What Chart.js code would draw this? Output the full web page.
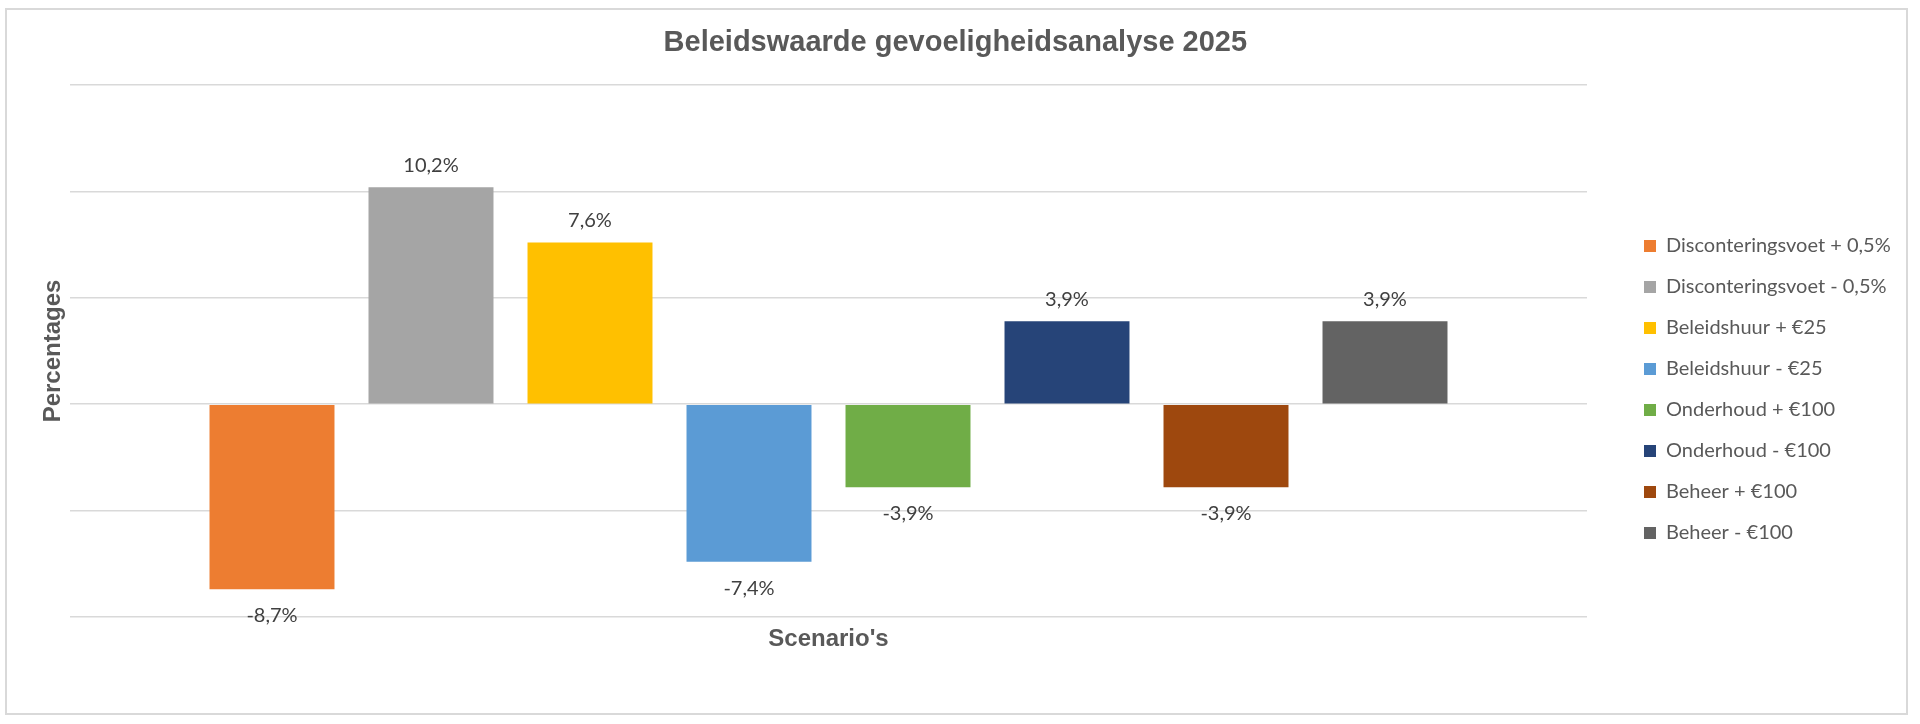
<!DOCTYPE html>
<html>
<head>
<meta charset="utf-8">
<title>Beleidswaarde gevoeligheidsanalyse 2025</title>
<script src="https://cdn.jsdelivr.net/npm/chart.js@4.4.1/dist/chart.umd.min.js"></script>
<style>
    html, body { margin: 0; padding: 0; background: #ffffff; }
    #wrap { position: relative; width: 1920px; height: 724px; }
    #frame {
        position: absolute; left: 5px; top: 8px; width: 1903px; height: 707px;
        border: 2px solid #d9d9d9; box-sizing: border-box; pointer-events: none;
    }
</style>
</head>
<body>
<div id="wrap">
    <canvas id="sensChart"></canvas>
    <div id="frame"></div>
</div>
<script>
// Chart data
const scenarios = [
    'Disconteringsvoet + 0,5%',
    'Disconteringsvoet - 0,5%',
    'Beleidshuur + €25',
    'Beleidshuur - €25',
    'Onderhoud + €100',
    'Onderhoud - €100',
    'Beheer + €100',
    'Beheer - €100'
];
const changes = [-8.7, 10.2, 7.6, -7.4, -3.9, 3.9, -3.9, 3.9];
const barColors = ['#ed7d31', '#a5a5a5', '#ffc000', '#5b9bd5', '#70ad47', '#264478', '#9e480e', '#636363'];
const yTicks = [-10, -5, 0, 5, 10, 15];

const legendFont = { family: 'Lato, "Noto Sans", sans-serif', size: 20 };
const labelPad = 21;

// measure widest legend text so the legend box lands where the original has it
const mctx = document.createElement('canvas').getContext('2d');
mctx.font = legendFont.size + 'px ' + legendFont.family;
const widest = Math.max(...scenarios.map(s => mctx.measureText(s).width));
const padRight = Math.max(0, 244 - widest);

const fmt = v => v.toFixed(1).replace('.', ',') + '%';

// value labels above / below each bar
const valueLabels = {
    id: 'valueLabels',
    afterDatasetsDraw(chart) {
        const ctx = chart.ctx;
        ctx.save();
        ctx.font = '20px Lato, "Noto Sans", sans-serif';
        ctx.fillStyle = '#404040';
        ctx.textAlign = 'center';
        ctx.textBaseline = 'alphabetic';
        chart.data.datasets.forEach((ds, i) => {
            const bar = chart.getDatasetMeta(i).data[0];
            const v = ds.data[0];
            if (v >= 0) {
                ctx.fillText(fmt(v), bar.x, bar.y - 15);
            } else {
                ctx.fillText(fmt(v), bar.x, bar.y + 33);
            }
        });
        ctx.restore();
    }
};

const ctx = document.getElementById('sensChart').getContext('2d');

new Chart(ctx, {
    type: 'bar',
    data: {
        labels: [''],
        datasets: scenarios.map((name, i) => ({
            label: name,
            data: [changes[i]],
            backgroundColor: barColors[i],
            borderWidth: 0
        }))
    },
    options: {
        responsive: true,
        maintainAspectRatio: false,
        devicePixelRatio: 1,
        animation: false,
        categoryPercentage: 0.8385,
        barPercentage: 0.786,
        layout: {
            padding: { left: 10, right: padRight, top: 8, bottom: 70 }
        },
        plugins: {
            title: {
                display: true,
                text: 'Beleidswaarde gevoeligheidsanalyse 2025',
                color: '#595959',
                font: { family: '"Liberation Sans", Arial, sans-serif', size: 29, weight: 'bold' },
                padding: { top: 17.6, bottom: 24.6 }
            },
            legend: {
                display: true,
                position: 'right',
                fullSize: false,
                align: 'center',
                title: {
                    display: true,
                    text: ' ',
                    font: { size: 10, lineHeight: 1 },
                    padding: { top: 67, bottom: 0 }
                },
                labels: {
                    color: '#595959',
                    font: legendFont,
                    boxWidth: 12,
                    boxHeight: 12,
                    padding: labelPad
                }
            },
            tooltip: { enabled: false }
        },
        scales: {
            x: {
                grid: { display: false },
                border: { display: false },
                ticks: { display: false },
                title: {
                    display: true,
                    text: "Scenario's",
                    color: '#595959',
                    font: { family: '"Liberation Sans", Arial, sans-serif', size: 24, weight: 'bold' },
                    padding: 0
                },
                afterFit(scale) { scale.height = 37; }
            },
            y: {
                min: yTicks[0],
                max: yTicks[yTicks.length - 1],
                afterBuildTicks(scale) { scale.ticks = yTicks.map(v => ({ value: v })); },
                ticks: { display: false },
                grid: { color: '#d9d9d9', lineWidth: 1.5, drawTicks: false },
                border: { display: false },
                title: {
                    display: true,
                    text: 'Percentages',
                    color: '#595959',
                    font: { family: '"Liberation Sans", Arial, sans-serif', size: 24, weight: 'bold' },
                    padding: { top: 29, bottom: 0 }
                },
                afterFit(scale) { scale.width = 60; }
            },
            // empty axis that keeps the gap between plot and legend
            gap: {
                position: 'right',
                display: true,
                grid: { display: false },
                border: { display: false },
                ticks: { display: false },
                afterFit(scale) { scale.width = 36; }
            }
        }
    },
    plugins: [valueLabels]
});
</script>
</body>
</html>
